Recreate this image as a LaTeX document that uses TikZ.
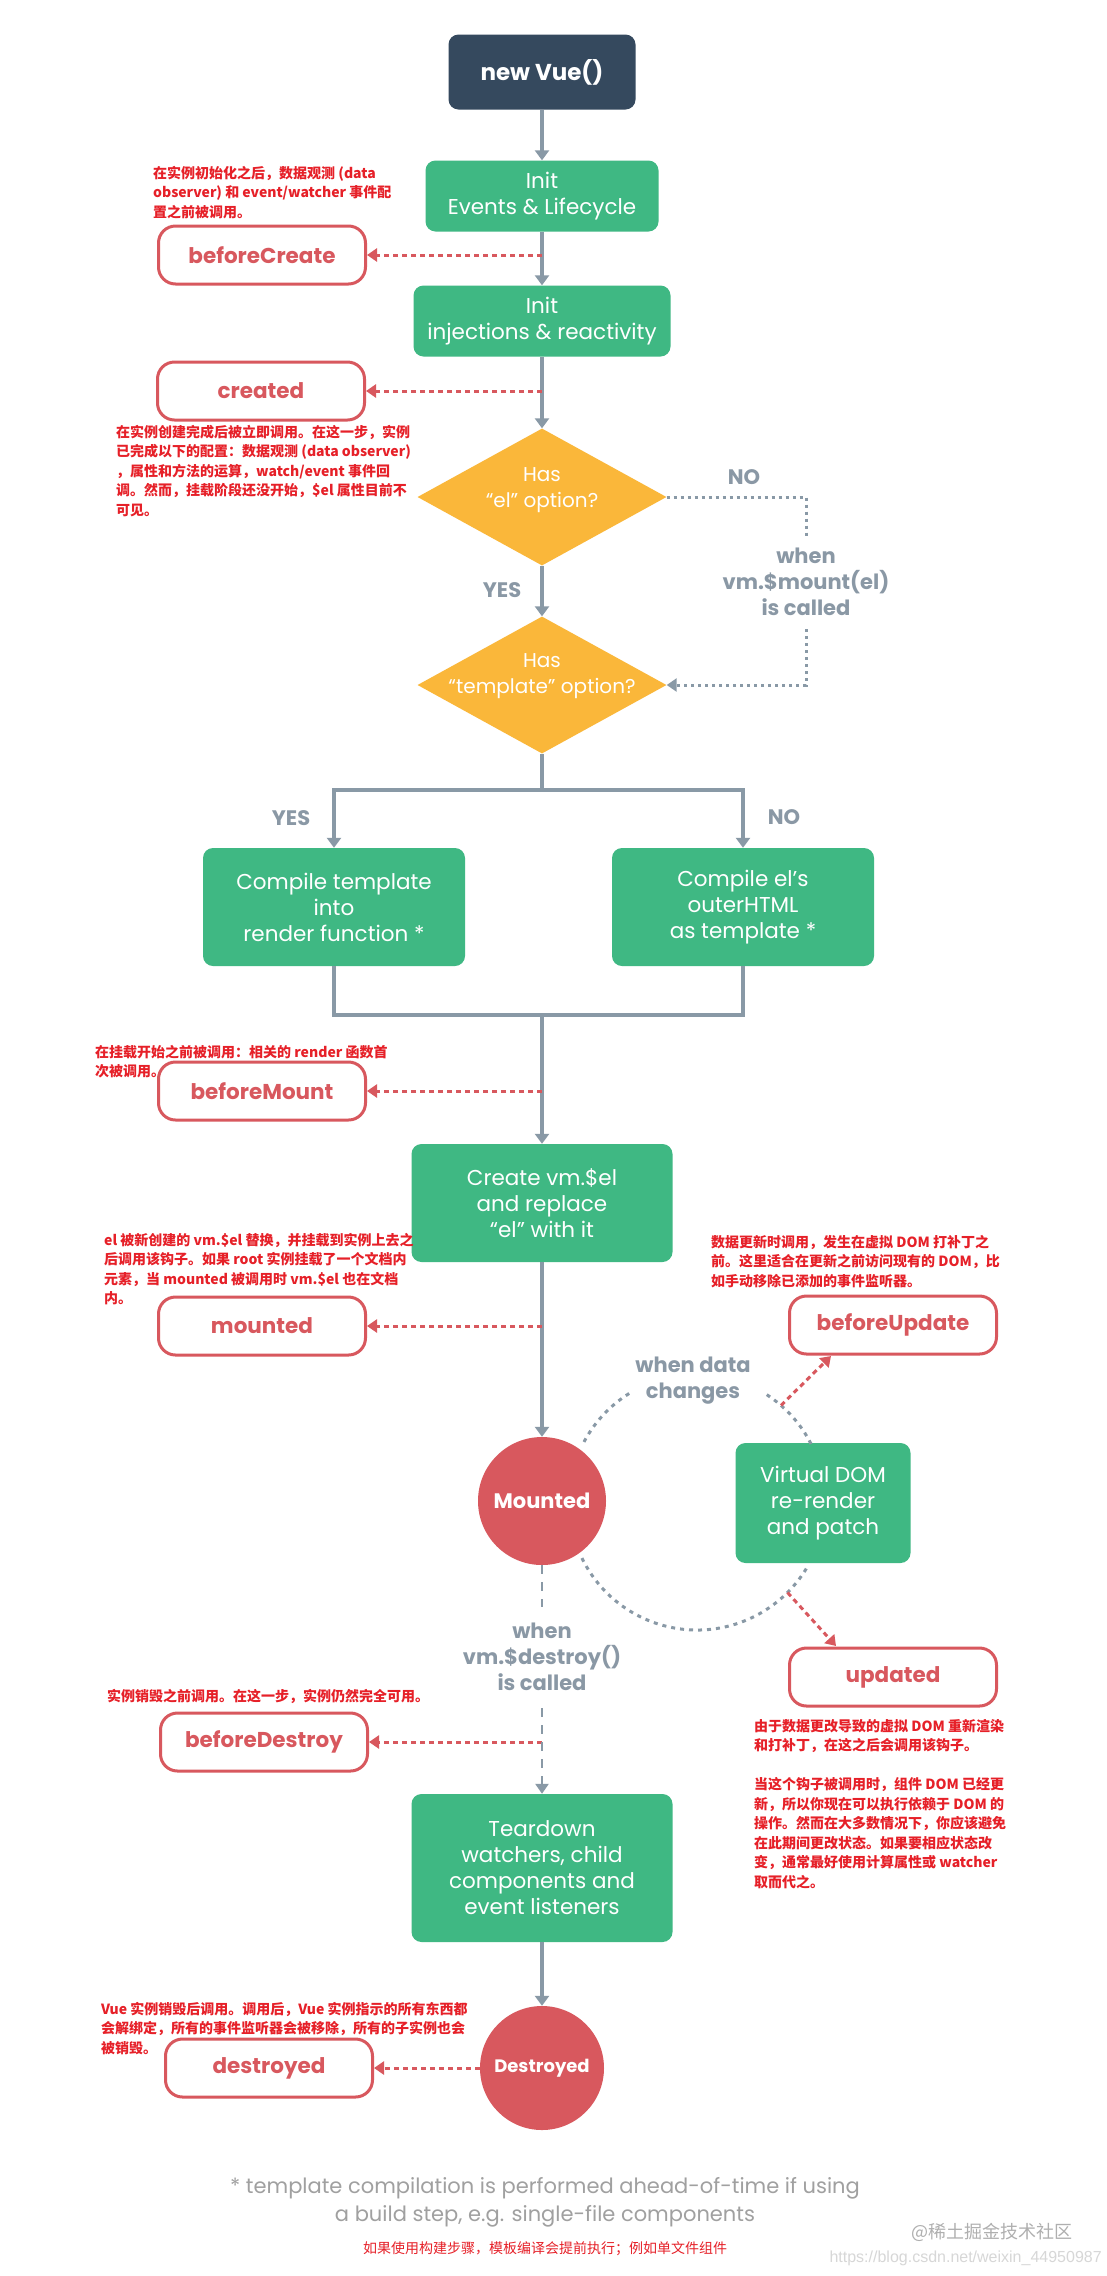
\documentclass[tikz,border=0pt]{standalone}
\usepackage{fontspec}
\setmainfont{Poppins}
\newfontfamily\cjk{Noto Sans CJK SC}
\newfontfamily\urlfont{Liberation Sans}
\usetikzlibrary{arrows.meta,shapes.geometric}
\definecolor{vdark}{RGB}{53,73,94}
\definecolor{vgreen}{RGB}{63,184,131}
\definecolor{vorange}{RGB}{250,183,58}
\definecolor{hred}{RGB}{216,88,94}
\definecolor{nred}{RGB}{230,32,40}
\definecolor{agray}{RGB}{137,153,166}
\definecolor{lgray}{RGB}{138,152,165}
\definecolor{fgray}{RGB}{160,160,160}
\definecolor{wmgray}{RGB}{175,175,175}
\definecolor{wmlight}{RGB}{215,215,215}
\newcommand\fsz[2]{\fontsize{#1}{#2}\selectfont}
\tikzset{
 darkbox/.style={fill=vdark, rounded corners=10pt, text=white, minimum width=187pt, minimum height=75pt, inner sep=0pt, font=\bfseries\fsz{23}{28}},
 greenbox/.style={fill=vgreen, rounded corners=10pt, text=white, inner sep=0pt, align=center, font=\fsz{21.5}{26}},
 hookbox/.style={draw=hred, line width=3pt, fill=white, rounded corners=17pt, text=hred, minimum width=207pt, minimum height=58pt, inner sep=0pt, font=\bfseries\fsz{21.5}{26}},
 decision/.style={diamond, fill=vorange, minimum width=249pt, minimum height=137pt, inner sep=0pt},
 dectext/.style={text=white, align=center, font=\fsz{20}{26}, inner sep=0pt},
 hookcircle/.style={circle, fill=hred, minimum size=128pt, inner sep=0pt, text=white, font=\bfseries\fsz{21}{24}},
 flow/.style={draw=agray, line width=3.2pt, -{Triangle[width=14pt,length=10pt]}},
 flowline/.style={draw=agray, line width=3.2pt},
 hookarrow/.style={draw=hred, line width=3pt, dash pattern=on 5pt off 4pt, -{Triangle[width=13pt,length=10pt]}},
 dotline/.style={draw=agray, line width=3pt, dash pattern=on 3pt off 4pt},
 arcline/.style={draw=agray, line width=3pt, dash pattern=on 4pt off 5pt},
 vdash/.style={draw=agray, line width=2.5pt, dash pattern=on 9pt off 8pt},
 graylabel/.style={text=lgray, align=center, font=\bfseries\fsz{21}{26}, inner sep=0pt},
 note/.style={text=nred, align=left, anchor=north west, inner sep=0pt, font=\cjk\bfseries\fsz{14}{19.5}},
}
\begin{document}
\begin{tikzpicture}[x=1pt,y=-1pt]
\useasboundingbox[fill=white] (0,0) rectangle (1107,2276);

% main column
\node[darkbox] (nv) at (542,72) {new Vue()};
\node[greenbox, minimum width=233pt, minimum height=71pt] (ie) at (542,196) {Init\\Events \& Lifecycle};
\node[greenbox, minimum width=257pt, minimum height=71pt] (ii) at (542,321) {Init\\injections \& reactivity};
\node[decision] (d1) at (542,497) {};
\node[dectext] (d1t) at (542,490) {Has\\“el” option?};
\node[decision] (d2) at (542,685) {};
\node[dectext] (d2t) at (542,676) {Has\\“template” option?};
\node[greenbox, minimum width=262pt, minimum height=118pt] (cl) at (334,907) {Compile template\\into\\render function *};
\node[greenbox, minimum width=262pt, minimum height=118pt] (cr) at (743,907) {Compile el’s\\outerHTML\\as template *};
\node[greenbox, minimum width=261pt, minimum height=118pt] (cv) at (542,1203) {Create vm.\$el\\and replace\\“el” with it};
\node[hookcircle] (mo) at (542,1501) {Mounted};
\node[greenbox, minimum width=175pt, minimum height=120pt] (vd) at (823,1503) {Virtual DOM\\re-render\\and patch};
\node[greenbox, minimum width=261pt, minimum height=148pt] (td) at (542,1868) {Teardown\\watchers, child\\components and\\event listeners};
\node[hookcircle, minimum size=124pt, font=\bfseries\fsz{18}{22}] (de) at (542,2068) {Destroyed};

% hooks
\node[hookbox] (bc) at (262,255) {beforeCreate};
\node[hookbox] (ct) at (261,391) {created};
\node[hookbox] (bm) at (262,1091) {beforeMount};
\node[hookbox] (mt) at (262,1326) {mounted};
\node[hookbox] (bu) at (893,1325) {beforeUpdate};
\node[hookbox] (up) at (893,1677) {updated};
\node[hookbox] (bd) at (264,1742) {beforeDestroy};
\node[hookbox] (dd) at (269,2068) {destroyed};

% flow arrows
\draw[flow] (nv.south) -- (ie.north);
\draw[flow] (ie.south) -- (ii.north);
\draw[flow] (ii.south) -- (d1.north);
\draw[flow] (d1.south) -- (d2.north);
\coordinate (j1) at (542,790);
\coordinate (j2) at (542,1015);
\draw[flowline] (d2.south) -- (j1);
\draw[flow] (j1) -| (cl.north);
\draw[flow] (j1) -| (cr.north);
\draw[flowline] (cl.south) |- (j2) -| (cr.south);
\draw[flow] (j2) -- (cv.north);
\draw[flow] (cv.south) -- (mo.north);
\draw[flow] (td.south) -- (de.north);

% el option NO path
\coordinate (p1) at (806,497);
\coordinate (p2) at (806,537);
\coordinate (p3) at (806,629);
\coordinate (p4) at (806,685);
\draw[dotline] (d1.east) -- (p1) -- (p2);
\node[graylabel] (ml) at (806,582) {when\\vm.\$mount(el)\\is called};
\draw[dotline, -{Triangle[width=13pt,length=10pt]}] (p3) -- (p4) -- (d2.east);

% labels
\node[graylabel] (no1) at (744,477) {NO};
\node[graylabel] (yes1) at (502,590) {YES};
\node[graylabel] (yes2) at (291,818) {YES};
\node[graylabel] (no2) at (784,817) {NO};
\node[graylabel] (wdc) at (693,1381) {when data\\changes};

% hook arrows
\coordinate (a1) at (542,255);
\coordinate (a2) at (542,391);
\coordinate (a3) at (542,1091);
\coordinate (a4) at (542,1326);
\coordinate (a5) at (542,1742);
\draw[hookarrow] (a1) -- (bc.east);
\draw[hookarrow] (a2) -- (ct.east);
\draw[hookarrow] (a3) -- (bm.east);
\draw[hookarrow] (a4) -- (mt.east);
\draw[hookarrow] (a5) -- (bd.east);
\draw[hookarrow] (de.west) -- (dd.east);

% update cycle
\coordinate (cc) at (697,1502);
\draw[arcline] ([shift={(-122:128)}]cc) arc[start angle=-122,end angle=-153,radius=128];
\draw[arcline] ([shift={(-27:128)}]cc) arc[start angle=-27,end angle=-57,radius=128];
\draw[arcline] ([shift={(-206:128)}]cc) arc[start angle=-206,end angle=-329,radius=128];
\coordinate (ubs) at ([shift={(-49:128)}]cc);
\coordinate (ube) at (831,1356);
\draw[hookarrow] (ubs) -- (ube);
\coordinate (uds) at ([shift={(45:128)}]cc);
\coordinate (ude) at (836,1646);
\draw[hookarrow] (uds) -- (ude);

% destroy path
\coordinate (q1) at (542,1607);
\coordinate (q2) at (542,1708);
\draw[vdash] (mo.south) -- (q1);
\node[graylabel] (dl) at (542,1657) {when\\vm.\$destroy()\\is called};
\draw[vdash, -{Triangle[width=13pt,length=10pt]}] (q2) -- (td.north);

% notes
\node[note] (n1) at (153,166) {在实例初始化之后，数据观测 (data\\observer) 和 event/watcher 事件配\\置之前被调用。};
\node[note] (n2) at (116,425) {在实例创建完成后被立即调用。在这一步，实例\\已完成以下的配置：数据观测 (data observer)\\，属性和方法的运算，watch/event 事件回\\调。然而，挂载阶段还没开始，\$el 属性目前不\\可见。};
\node[note] (n3) at (95,1045) {在挂载开始之前被调用：相关的 render 函数首\\次被调用。};
\node[note] (n4) at (104,1233) {el 被新创建的 vm.\$el 替换，并挂载到实例上去之\\后调用该钩子。如果 root 实例挂载了一个文档内\\元素，当 mounted 被调用时 vm.\$el 也在文档\\内。};
\node[note] (n5) at (711,1235) {数据更新时调用，发生在虚拟 DOM 打补丁之\\前。这里适合在更新之前访问现有的 DOM，比\\如手动移除已添加的事件监听器。};
\node[note] (n6) at (754,1719) {由于数据更改导致的虚拟 DOM 重新渲染\\和打补丁，在这之后会调用该钩子。\\[19.5pt]当这个钩子被调用时，组件 DOM 已经更\\新，所以你现在可以执行依赖于 DOM 的\\操作。然而在大多数情况下，你应该避免\\在此期间更改状态。如果要相应状态改\\变，通常最好使用计算属性或 watcher\\取而代之。};
\node[note] (n7) at (107,1689) {实例销毁之前调用。在这一步，实例仍然完全可用。};
\node[note] (n8) at (101,2002) {Vue 实例销毁后调用。调用后，Vue 实例指示的所有东西都\\会解绑定，所有的事件监听器会被移除，所有的子实例也会\\被销毁。};

% footnote
\node[text=fgray, align=center, font=\fsz{21}{28}] (fn) at (545,2202) {* template compilation is performed ahead-of-time if using\\a build step, e.g. single-file components};
\node[text=nred, font=\cjk\fsz{14}{18}] (fnc) at (545,2249) {如果使用构建步骤，模板编译会提前执行；例如单文件组件};
\node[text=wmgray, font=\cjk\fsz{18}{22}] (wm1) at (992,2232) {@稀土掘金技术社区};
\node[text=wmlight, font=\urlfont\fsz{16}{20}, anchor=west] (wm2) at (826,2258) {https://blog.csdn.net/weixin\_44950987};
\end{tikzpicture}
\end{document}
